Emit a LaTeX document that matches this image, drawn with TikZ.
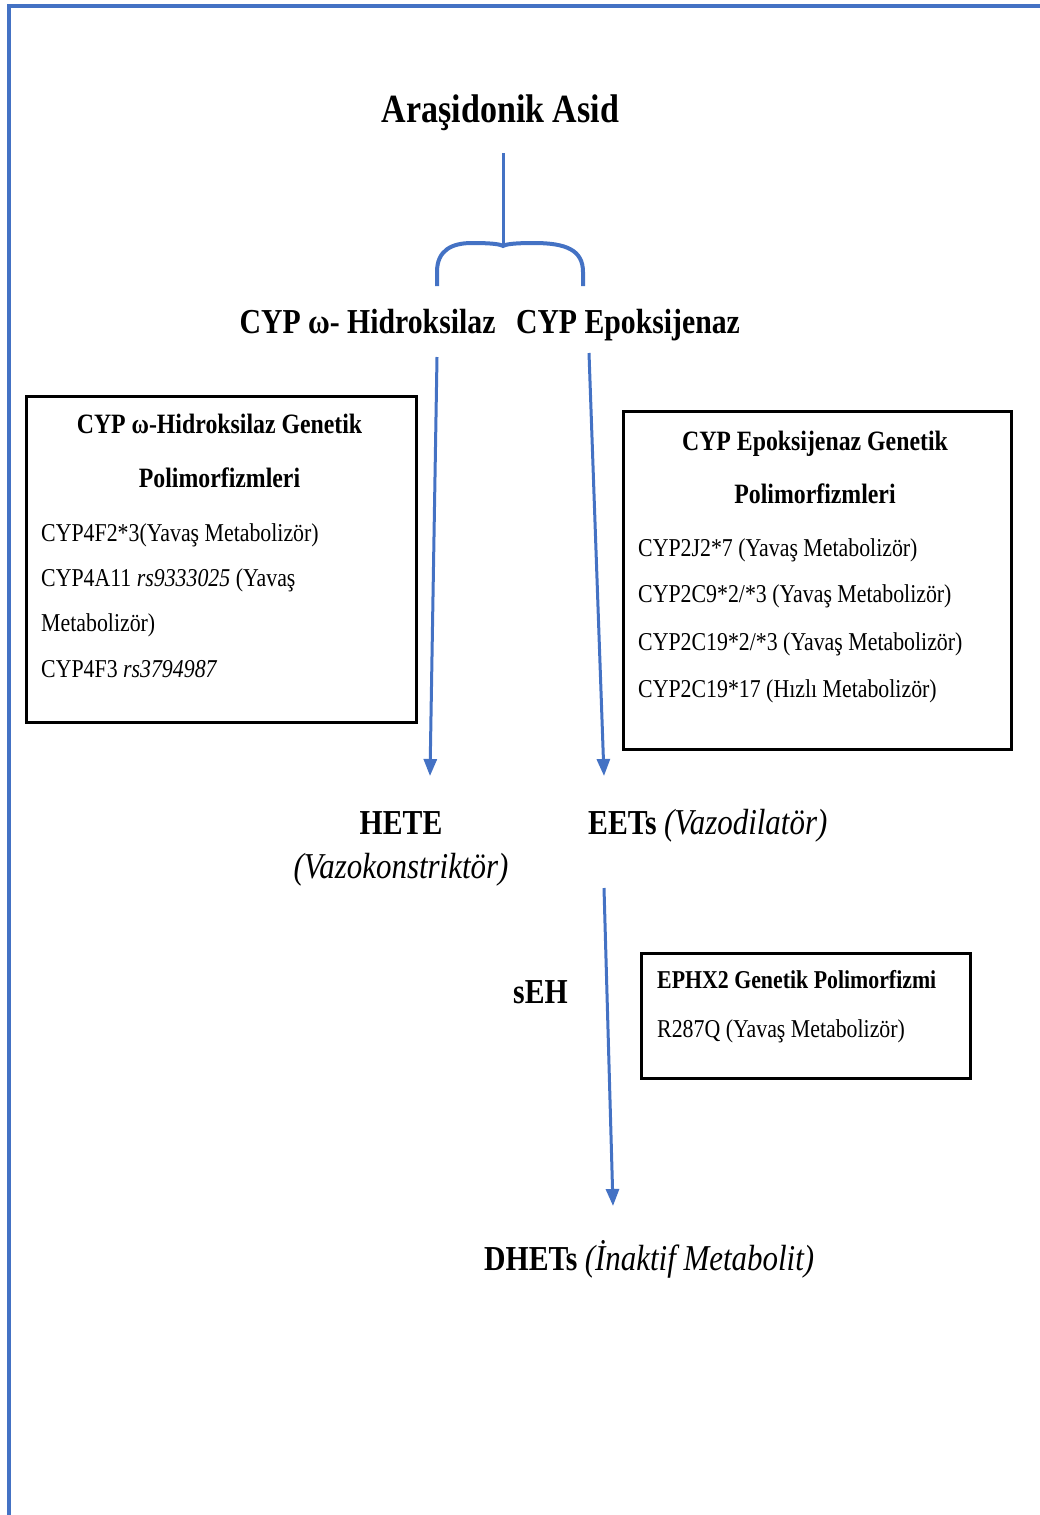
\documentclass[tikz,border=0pt]{standalone}
\usepackage{fontspec}
\setmainfont{Liberation Serif}[FakeStretch=0.85]
\usetikzlibrary{arrows.meta}
\definecolor{fblue}{HTML}{4472C4}
\begin{document}
\begin{tikzpicture}[x=1pt,y=-1pt,
  conn/.style={draw=fblue, line width=3pt, -{Triangle[length=17pt,width=13pt]}},
  bigbold/.style={font=\fontsize{35}{40}\selectfont\bfseries, inner sep=0pt},
  bigital/.style={font=\fontsize{36.4}{40}\selectfont\itshape, inner sep=0pt},
  box/.style={draw=black, line width=2.5pt, inner sep=0pt},
  boxhead/.style={font=\fontsize{28}{32}\selectfont\bfseries, inner sep=0pt, anchor=base},
  boxtxt/.style={font=\fontsize{25.7}{30}\selectfont, inner sep=0pt, anchor=base west},
]
\useasboundingbox (0,0) rectangle (1040,1515);
% frame
\draw[fblue, line width=4pt] (9,1515) -- (9,5.5) -- (1040,5.5);

% title and branching
\node[inner sep=0pt, anchor=base, font=\fontsize{40}{44}\selectfont\bfseries] (title) at (500.5,122) {Araşidonik Asid};
\coordinate (stemtop) at (503,153);
\coordinate (stembot) at (503,246);
\draw[fblue, line width=3pt] (stemtop) -- (stembot);
\coordinate (brl) at (437,286);
\coordinate (brr) at (583,286);
\draw[fblue, line width=4pt] (brl) -- (437,272) .. controls (437,250) and (452,243) .. (472,243)
  .. controls (490,243) and (500,244) .. (stembot)
  .. controls (506,244) and (516,243) .. (534,243)
  .. controls (566,243) and (583,250) .. (583,272) -- (brr);

\node[bigbold, anchor=base] (hyd) at (367.5,333) {CYP ω- Hidroksilaz};
\node[bigbold, anchor=base] (epo) at (628,333) {CYP Epoksijenaz};

% left box
\node[box, anchor=north west, minimum width=390pt, minimum height=326pt] (lbox) at (25,395) {};
\node[boxhead] (lh1) at (219.5,433) {CYP ω-Hidroksilaz Genetik};
\node[boxhead] (lh2) at (219.5,487) {Polimorfizmleri};
\node[boxtxt] (l1) at (41,541) {CYP4F2*3(Yavaş Metabolizör)};
\node[boxtxt] (l2) at (41,586) {CYP4A11 \textit{rs9333025} (Yavaş};
\node[boxtxt] (l3) at (41,631) {Metabolizör)};
\node[boxtxt] (l4) at (41,677) {CYP4F3 \textit{rs3794987}};

% right box
\node[box, anchor=north west, minimum width=388pt, minimum height=338pt] (rbox) at (622,410) {};
\node[boxhead] (rh1) at (815,450) {CYP Epoksijenaz Genetik};
\node[boxhead] (rh2) at (815,503) {Polimorfizmleri};
\node[boxtxt] (r1) at (638,556) {CYP2J2*7 (Yavaş Metabolizör)};
\node[boxtxt] (r2) at (638,602) {CYP2C9*2/*3 (Yavaş Metabolizör)};
\node[boxtxt] (r3) at (638,650) {CYP2C19*2/*3 (Yavaş Metabolizör)};
\node[boxtxt] (r4) at (638,697) {CYP2C19*17 (Hızlı Metabolizör)};

% arrows to products
\coordinate (a1s) at (437,357);
\coordinate (a1e) at (430,776);
\coordinate (a2s) at (589,353);
\coordinate (a2e) at (604,776);
\draw[conn] (a1s) -- (a1e);
\draw[conn] (a2s) -- (a2e);

\node[bigbold, anchor=base] (hete) at (401,834) {HETE};
\node[bigital, anchor=base] (vk) at (401,878) {(Vazokonstriktör)};
\node[bigbold, anchor=base west] (eets) at (588,834) {EETs {\mdseries\itshape\fontsize{36.4}{40}\selectfont (Vazodilatör)}};

% sEH step
\coordinate (a3s) at (604,888);
\coordinate (a3e) at (613,1206);
\draw[conn] (a3s) -- (a3e);
\node[bigbold, anchor=base west] (seh) at (513,1003) {sEH};

\node[box, anchor=north west, minimum width=329pt, minimum height=125pt] (ebox) at (640,952) {};
\node[inner sep=0pt, anchor=base west, font=\fontsize{25.7}{30}\selectfont\bfseries] (eh) at (657,988) {EPHX2 Genetik Polimorfizmi};
\node[boxtxt] (e1) at (657,1037) {R287Q (Yavaş Metabolizör)};

\node[bigbold, anchor=base west] (dhets) at (484,1270) {DHETs {\mdseries\itshape\fontsize{36.4}{40}\selectfont (İnaktif Metabolit)}};
\end{tikzpicture}
\end{document}
